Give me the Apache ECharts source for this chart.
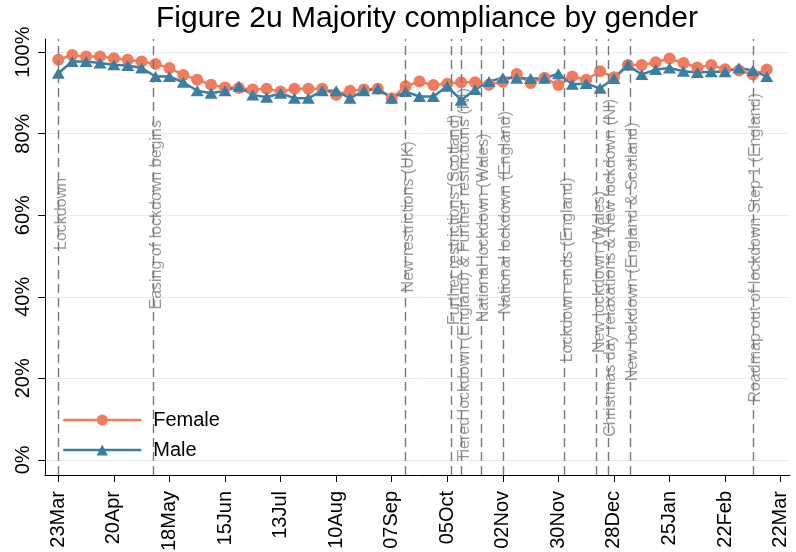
<!DOCTYPE html>
<html>
<head>
<meta charset="utf-8">
<title>Figure 2u Majority compliance by gender</title>
<script src="https://cdn.jsdelivr.net/npm/echarts@6/dist/echarts.min.js"></script>
<style>
  html, body { margin: 0; padding: 0; background: #fff; }
  #main { width: 796px; height: 552px; }
</style>
</head>
<body>
<div id="main"></div>
<script>
// weekly survey waves, first one on 23 Mar 2020
var firstWave = '2020-03-23';

// % following the rules, one value per week
var female = [98.1, 99.3, 98.9, 98.9, 98.5, 98.1, 97.7, 97.1, 96.1, 94.4,
              93.2, 92.0, 91.3, 91.2, 90.8, 91.0, 90.3, 91.0, 91.0, 91.0,
              89.5, 90.5, 90.8, 91.0, 88.7, 91.6, 92.8, 91.9, 92.2, 92.6,
              92.6, 92.0, 92.7, 94.6, 92.4, 93.7, 91.9, 94.0, 93.2, 95.3,
              93.8, 96.8, 96.8, 97.5, 98.4, 97.3, 96.2, 96.8, 95.8, 95.5,
              94.5, 95.7];
var male   = [94.8, 97.7, 97.7, 97.3, 96.9, 96.7, 96.1, 94.0, 94.0, 92.6,
              90.5, 89.9, 90.5, 91.6, 89.5, 88.9, 89.9, 88.7, 88.7, 90.5,
              90.5, 88.7, 90.5, 91.0, 88.7, 90.3, 89.1, 89.1, 91.6, 88.2,
              90.8, 92.8, 93.7, 93.6, 93.5, 93.6, 94.7, 92.1, 92.3, 91.1,
              93.5, 96.8, 94.5, 95.7, 96.1, 95.3, 95.0, 95.2, 95.2, 96.1,
              95.5, 94.0];

// x axis ticks
var tickDates  = ['2020-03-23', '2020-04-20', '2020-05-18', '2020-06-15', '2020-07-13',
                  '2020-08-10', '2020-09-07', '2020-10-05', '2020-11-02', '2020-11-30',
                  '2020-12-28', '2021-01-25', '2021-02-22', '2021-03-22'];
var tickLabels = ['23Mar', '20Apr', '18May', '15Jun', '13Jul', '10Aug', '07Sep',
                  '05Oct', '02Nov', '30Nov', '28Dec', '25Jan', '22Feb', '22Mar'];
var yTicks = [0, 20, 40, 60, 80, 100];

// policy events (dashed lines)
var eventDates = ['2020-03-23', '2020-05-10', '2020-09-14', '2020-10-07', '2020-10-12',
                  '2020-10-22', '2020-11-02', '2020-12-03', '2020-12-19', '2020-12-25',
                  '2021-01-05', '2021-03-08'];
var eventNames = ['Lockdown',
                  'Easing of lockdown begins',
                  'New restrictions (UK)',
                  'Further restrictions (Scotland)',
                  'Tiered lockdown (England) & Further restrictions (NI)',
                  'National lockdown (Wales)',
                  'National lockdown (England)',
                  'Lockdown ends (England)',
                  'New lockdown (Wales)',
                  'Christmas day relaxations & New lockdown (NI)',
                  'New lockdown (England & Scotland)',
                  'Roadmap out of lockdown Step 1 (England)'];
// where the middle of each event label sits (in % on the y axis)
var eventLabelY = [60.3, 60.1, 59.6, 58.9, 45.4, 56.9, 60.6, 46.6, 46.1, 47.1, 51, 52];

var FONT = '"Liberation Sans", Arial, sans-serif';
var ORANGE = '#F07C5D';
var BLUE = '#3A7EA3';

// days since first wave
function dayOf(s) {
    var p = s.split('-');
    return (Date.UTC(+p[0], +p[1] - 1, +p[2]) - Date.UTC(2020, 2, 23)) / 86400000;
}

var start = dayOf(firstWave);
var femaleData = [], maleData = [];
for (var i = 0; i < female.length; i++) {
    femaleData.push([start + i * 7, female[i]]);
    maleData.push([start + i * 7, male[i]]);
}
var tickDays = tickDates.map(dayOf);
var eventDays = eventDates.map(dayOf);

var lineData = [], labelData = [];
for (var j = 0; j < eventDays.length; j++) {
    lineData.push({ xAxis: eventDays[j] });
    labelData.push({ name: eventNames[j], value: [eventDays[j], eventLabelY[j]] });
}

var myChart = echarts.init(document.getElementById('main'));

var option = {
    animation: false,
    textStyle: { fontFamily: FONT },
    title: {
        text: 'Figure 2u Majority compliance by gender',
        left: 156,
        top: 4,
        padding: 0,
        textStyle: { fontFamily: FONT, fontSize: 30, fontWeight: 'normal', color: '#000' }
    },
    grid: { left: 45, right: 6, top: 39, bottom: 77, containLabel: false, outerBoundsMode: 'none' },
    legend: {
        data: ['Female', 'Male'],
        orient: 'vertical',
        left: 62,
        top: 410,
        padding: 0,
        itemWidth: 78,
        itemHeight: 14,
        itemGap: 10,
        lineStyle: { width: 2.5 },
        textStyle: { fontFamily: FONT, fontSize: 20, color: '#000', padding: [0, 0, 0, 7] }
    },
    xAxis: {
        type: 'value',
        min: -6.7,
        max: 368.7,
        axisLine: { onZero: false, lineStyle: { color: '#000', width: 1 } },
        axisTick: { show: true, length: 7, customValues: tickDays, lineStyle: { color: '#000' } },
        axisLabel: {
            customValues: tickDays,
            rotate: 90,
            margin: 16,
            fontSize: 20,
            color: '#000',
            fontFamily: FONT,
            formatter: function (v) {
                var k = tickDays.indexOf(v);
                return k >= 0 ? tickLabels[k] : '';
            }
        },
        splitLine: { show: false }
    },
    yAxis: {
        type: 'value',
        min: -3.7,
        max: 103.2,
        axisLine: { show: true, onZero: false, lineStyle: { color: '#000', width: 1 } },
        axisTick: { show: true, length: 7, customValues: yTicks, lineStyle: { color: '#000' } },
        axisLabel: {
            customValues: yTicks,
            rotate: 90,
            margin: 12,
            fontSize: 20,
            color: '#000',
            fontFamily: FONT,
            formatter: '{value}%'
        },
        splitLine: { show: true, lineStyle: { color: '#E6EEF2', width: 1 } }
    },
    series: [
        {
            name: 'Female',
            type: 'line',
            data: femaleData,
            symbol: 'circle',
            symbolSize: 12,
            showAllSymbol: true,
            lineStyle: { color: ORANGE, width: 2.5 },
            itemStyle: { color: ORANGE },
            markLine: {
                silent: true,
                symbol: ['none', 'none'],
                label: { show: false },
                lineStyle: { color: '#777', width: 1.4, type: [9, 5] },
                data: lineData
            }
        },
        {
            name: 'Male',
            type: 'line',
            data: maleData,
            symbol: 'triangle',
            symbolSize: [13, 11],
            showAllSymbol: true,
            lineStyle: { color: BLUE, width: 2.5 },
            itemStyle: { color: BLUE }
        },
        {
            // event labels
            name: 'events',
            type: 'scatter',
            data: labelData,
            symbolSize: 2,
            itemStyle: { color: 'rgba(0,0,0,0)' },
            silent: true,
            z: 1,
            label: {
                show: true,
                position: 'inside',
                rotate: 90,
                offset: [0, 3],
                formatter: '{b}',
                fontSize: 16,
                color: '#808080',
                fontFamily: FONT
            }
        }
    ]
};

myChart.setOption(option);
</script>
</body>
</html>
